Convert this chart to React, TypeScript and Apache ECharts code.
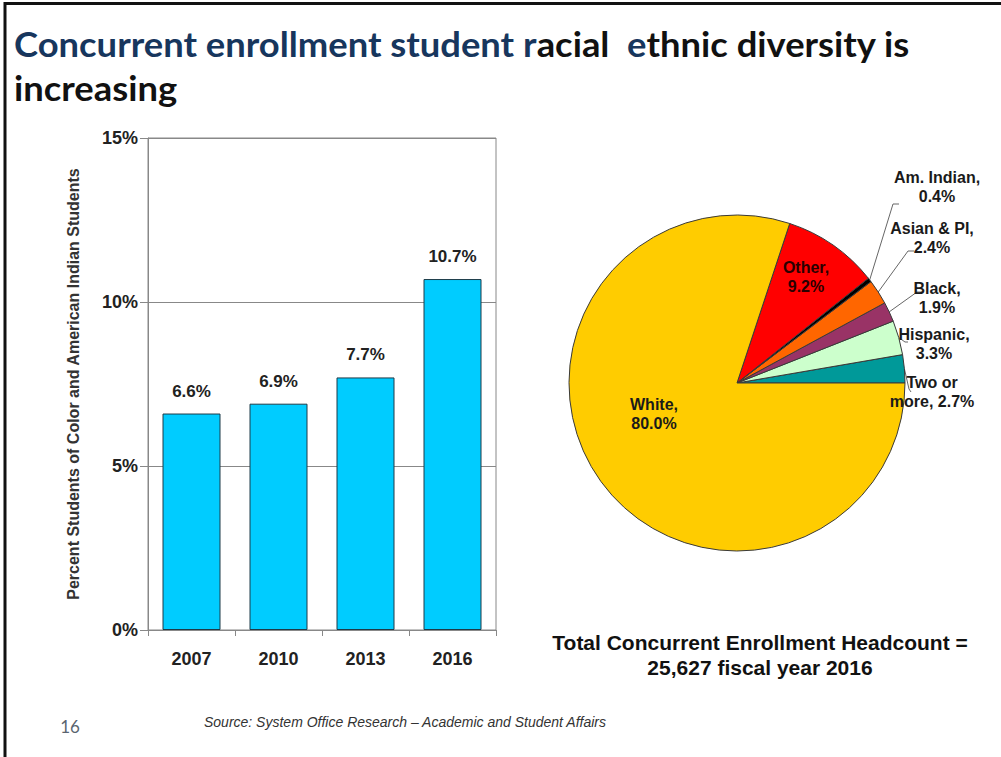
import React, { useEffect, useRef } from 'react';
import * as echarts from 'echarts';

// ---- Data ----
const years = ['2007', '2010', '2013', '2016'];
const percentOfColor = [6.6, 6.9, 7.7, 10.7];
const yMin = 0;
const yMax = 15;
const yInterval = 5;

const pieNames = ['Two or\nmore', 'Hispanic', 'Black', 'Asian & PI', 'Am. Indian', 'Other', 'White'];
const pieValues = [2.7, 3.3, 1.9, 2.4, 0.4, 9.2, 80.0];
const pieColors = ['#009999', '#CCFFCC', '#993366', '#FF6600', '#000000', '#FF0000', '#FFCC00'];

const titleLine1 = ['Concurrent enrollment student r', 'acial  ', 'e', 'thnic diversity is'];
const titleLine2 = 'increasing';
const headcountText = ['Total Concurrent Enrollment Headcount =', '25,627 fiscal year 2016'];
const sourceText = 'Source: System Office Research \u2013 Academic and Student Affairs';
const pageNumber = '16';
const yAxisName = 'Percent Students of Color and American Indian Students';

// label placement for pie (layout only)
const pieLabelLayout: Record<number, { x: number; y: number; line?: number[][] }> = {
  0: { x: 932, y: 392, line: [[909, 389], [911, 392]] },
  1: { x: 934, y: 344, line: [[905, 342], [908, 342]] },
  2: { x: 937, y: 298, line: [[917, 292], [923, 292]] },
  3: { x: 932, y: 238, line: [[908, 251], [914, 251]] },
  4: { x: 937, y: 187, line: [[893, 204], [899, 204]] },
  5: { x: 806, y: 277 },
  6: { x: 654, y: 414 },
};

const FONT = '"Liberation Sans", Arial, sans-serif';
const TFONT = 'Lato, "Open Sans", sans-serif';

export default function App() {
  const ref = useRef<HTMLDivElement>(null);

  useEffect(() => {
    document.body.style.margin = '0';
    const chart = echarts.init(ref.current!, null, { renderer: 'svg' });
    const navy = '#17365D';
    const dark = '#111111';

    const option: any = {
      animation: false,
      backgroundColor: '#ffffff',
      textStyle: { fontFamily: FONT },
      grid: {
        left: 148,
        top: 138,
        width: 348,
        height: 492,
        show: true,
        borderColor: '#888888',
        borderWidth: 1,
        containLabel: false,
      },
      xAxis: {
        type: 'category',
        data: years,
        axisLine: { show: true, lineStyle: { color: '#888888', width: 1 } },
        axisTick: { show: true, alignWithLabel: false, length: 6, lineStyle: { color: '#888888' } },
        axisLabel: { fontSize: 18, fontWeight: 'bold', color: '#222222', margin: 20, fontFamily: FONT },
        splitLine: { show: false },
      },
      yAxis: {
        type: 'value',
        min: yMin,
        max: yMax,
        interval: yInterval,
        name: yAxisName,
        nameLocation: 'middle',
        nameRotate: 90,
        nameGap: 67,
        nameTextStyle: { fontSize: 16, fontWeight: 'bold', color: '#333333', fontFamily: FONT },
        axisLine: { show: true, lineStyle: { color: '#888888', width: 1 } },
        axisTick: { show: true, length: 8, lineStyle: { color: '#888888' } },
        axisLabel: {
          formatter: '{value}%',
          fontSize: 18,
          fontWeight: 'bold',
          color: '#222222',
          margin: 10,
          fontFamily: FONT,
        },
        splitLine: { show: true, lineStyle: { color: '#888888', width: 1 } },
      },
      series: [
        {
          type: 'bar',
          data: percentOfColor,
          barWidth: 58,
          itemStyle: { color: '#00CCFF', borderColor: '#1d3a48', borderWidth: 1 },
          label: {
            show: true,
            position: 'top',
            distance: 14,
            formatter: (p: any) => `${Number(p.value).toFixed(1)}%`,
            fontSize: 17,
            fontWeight: 'bold',
            color: '#222222',
            fontFamily: FONT,
          },
          emphasis: { disabled: true },
        },
        {
          type: 'pie',
          center: [737, 383],
          radius: 168,
          startAngle: 0,
          clockwise: false,
          avoidLabelOverlap: false,
          emphasis: { disabled: true },
          itemStyle: { borderColor: '#3a3a3a', borderWidth: 1 },
          label: {
            show: true,
            position: 'outside',
            fontSize: 16,
            fontWeight: 'bold',
            lineHeight: 19,
            color: '#1a1a1a',
            align: 'center',
            fontFamily: FONT,
            formatter: (p: any) => {
              const v = Number(p.value).toFixed(1) + '%';
              return p.name.includes('\n') ? `${p.name}, ${v}` : `${p.name},\n${v}`;
            },
          },
          labelLine: { show: true, lineStyle: { color: '#666666', width: 1 } },
          labelLayout: (params: any) => {
            const cfg = pieLabelLayout[params.dataIndex];
            if (!cfg) return {};
            const out: any = { x: cfg.x, y: cfg.y, align: 'center', verticalAlign: 'middle' };
            if (cfg.line && params.labelLinePoints && params.labelLinePoints.length) {
              out.labelLinePoints = [params.labelLinePoints[0], ...cfg.line];
            }
            return out;
          },
          data: pieValues.map((v, i) => ({
            name: pieNames[i],
            value: v,
            itemStyle: { color: pieColors[i] },
            labelLine: { show: i < 5 },
            label: i === 5 ? { color: '#2a0000' } : undefined,
          })),
        },
      ],
      graphic: [
        {
          type: 'polyline',
          shape: { points: [[5, 757], [5, 3.5], [1001, 3.5]] },
          style: { stroke: '#111111', lineWidth: 3, fill: null },
          silent: true,
        },
        {
          type: 'text',
          x: 14,
          y: 43,
          scaleX: 1.07,
          style: {
            text: `{n|${titleLine1[0]}}{b|${titleLine1[1]}}{n|${titleLine1[2]}}{b|${titleLine1[3]}}`,
            verticalAlign: 'middle',
            rich: {
              n: { fontSize: 34, fontWeight: 'bold', fontFamily: TFONT, fill: navy },
              b: { fontSize: 34, fontWeight: 'bold', fontFamily: TFONT, fill: dark },
            },
          },
        },
        {
          type: 'text',
          x: 14,
          y: 87,
          scaleX: 1.07,
          style: {
            text: titleLine2,
            verticalAlign: 'middle',
            fontSize: 34,
            fontWeight: 'bold',
            fontFamily: TFONT,
            fill: dark,
          },
        },
        {
          type: 'text',
          x: 760,
          y: 643,
          scaleX: 1.05,
          style: {
            text: headcountText[0],
            align: 'center',
            verticalAlign: 'middle',
            fontSize: 20,
            fontWeight: 'bold',
            fontFamily: FONT,
            fill: dark,
          },
        },
        {
          type: 'text',
          x: 760,
          y: 668,
          scaleX: 1.05,
          style: {
            text: headcountText[1],
            align: 'center',
            verticalAlign: 'middle',
            fontSize: 20,
            fontWeight: 'bold',
            fontFamily: FONT,
            fill: dark,
          },
        },
        {
          type: 'text',
          x: 70,
          y: 726,
          style: {
            text: pageNumber,
            align: 'center',
            verticalAlign: 'middle',
            fontSize: 17,
            fontFamily: TFONT,
            fill: '#5a6470',
          },
        },
        {
          type: 'text',
          x: 405,
          y: 722,
          style: {
            text: sourceText,
            align: 'center',
            verticalAlign: 'middle',
            fontSize: 14,
            fontStyle: 'italic',
            fontFamily: FONT,
            fill: '#333333',
          },
        },
      ],
    };

    chart.setOption(option);
    return () => chart.dispose();
  }, []);

  return (
    <div
      ref={ref}
      style={{ position: 'absolute', left: 0, top: 0, width: 1001, height: 757, background: '#fff' }}
    />
  );
}
